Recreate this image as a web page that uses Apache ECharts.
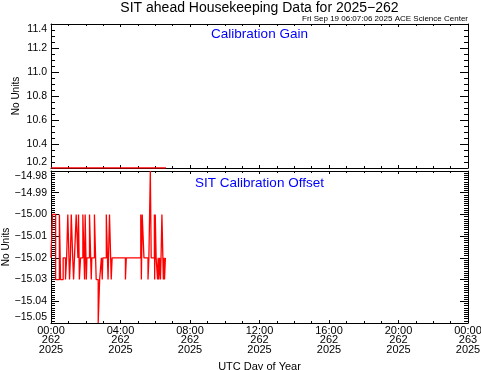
<!DOCTYPE html>
<html>
<head>
<meta charset="utf-8">
<script src="https://cdn.jsdelivr.net/npm/echarts@6/dist/echarts.min.js"></script>
<style>
html,body{margin:0;padding:0;background:#fff;}
#chart{width:481px;height:370px;}
</style>
</head>
<body>
<div id="chart"></div>
<script>
// ---- data (minutes since 00:00 of day 262) ----
var gainTimes = [0, 397];
var gainValues = [10.2, 10.2];

var offsetTimes = [0, 5, 16, 29, 33, 42, 50, 54, 58, 62, 64, 67, 70, 75, 78, 81, 87, 93, 95, 98,
  102, 110, 116, 118, 122, 124, 133, 139, 141, 150, 154, 156, 163, 168, 174, 177, 179, 191, 197, 202,
  206, 208, 211, 257, 260, 310, 312, 315, 321, 335, 338, 343, 346, 357, 358, 360, 363, 368, 370, 372,
  375, 378, 380, 383, 388, 390, 392, 395, 397];
var offsetValues = [-15.02, -15.00, -15.03, -15.00, -15.03, -15.02, -15.03, -15.02, -15.00, -15.02,
  -15.03, -15.02, -15.00, -15.02, -15.03, -15.02, -15.00, -15.02, -15.00, -15.03,
  -15.02, -15.00, -15.03, -15.00, -15.03, -15.02, -15.00, -15.03, -15.02, -15.00,
  -15.02, -15.03, -15.05, -15.03, -15.02, -15.03, -15.02, -15.00, -15.03, -15.00,
  -15.02, -15.03, -15.02, -15.03, -15.02, -15.00, -15.03, -15.00, -15.02, -15.03,
  -15.02, -14.98, -15.02, -15.00, -15.03, -15.00, -15.02, -15.03, -15.02, -15.03,
  -15.02, -15.03, -15.02, -15.00, -15.03, -15.02, -15.03, -15.02, -15.02];

var xTickMinutes = [0, 240, 480, 720, 960, 1200, 1440];
var xTickLabels = ['00:00\n262\n2025', '04:00\n262\n2025', '08:00\n262\n2025', '12:00\n262\n2025',
  '16:00\n262\n2025', '20:00\n262\n2025', '00:00\n263\n2025'];

var titleText = 'SIT ahead Housekeeping Data for 2025\u2212262';
var stampText = 'Fri Sep 19 06:07:06 2025 ACE Science Center';
var panelTitles = ['Calibration Gain', 'SIT Calibration Offset'];

// ---- build ----
var FONT = 'Liberation Sans';
function pairs(t, v) { return t.map(function (x, i) { return [x, v[i]]; }); }
function xLabel(val) {
  var i = xTickMinutes.indexOf(Math.round(val));
  return i >= 0 ? xTickLabels[i] : '';
}

var L = 51, R = 13, PL = L, PR = 481 - R;
var cx = (PL + PR) / 2;

function xAxisCfg(grid, pos, labels) {
  var a = {
    type: 'value', gridIndex: grid, position: pos, min: 0, max: 1440, interval: 240,
    axisLine: { show: true, onZero: false, lineStyle: { color: '#000', width: 1 } },
    axisTick: { show: true, inside: true, length: 3, lineStyle: { color: '#000' } },
    minorTick: { show: true, splitNumber: 4, length: 2, lineStyle: { color: '#000' } },
    splitLine: { show: false }, minorSplitLine: { show: false },
    axisLabel: { show: false }
  };
  if (labels) {
    a.axisLabel = {
      show: true, formatter: xLabel, color: '#000', fontFamily: FONT, fontSize: 11,
      lineHeight: 9.5, margin: 3, showMinLabel: true, showMaxLabel: true, hideOverlap: false
    };
    a.name = 'UTC Day of Year';
    a.nameLocation = 'middle';
    a.nameGap = 38;
    a.nameMoveOverlap = false;
    a.nameTextStyle = { color: '#000', fontFamily: FONT, fontSize: 11 };
  }
  return a;
}
function yAxisCfg(grid, pos, min, max, interval, minorN, digits, labels, nameGap) {
  var a = {
    type: 'value', gridIndex: grid, position: pos, min: min, max: max, interval: interval,
    axisLine: { show: true, onZero: false, lineStyle: { color: '#000', width: 1 } },
    axisTick: { show: true, inside: true, length: 8, lineStyle: { color: '#000' } },
    minorTick: { show: true, splitNumber: minorN, length: 4, lineStyle: { color: '#000' } },
    splitLine: { show: false }, minorSplitLine: { show: false },
    axisLabel: { show: false }
  };
  if (labels) {
    a.axisLabel = {
      show: true, color: '#000', fontFamily: FONT, fontSize: 10.5, margin: 4,
      formatter: function (v) { return v.toFixed(digits).replace('-', '\u2212'); },
      verticalAlignMinLabel: 'bottom', verticalAlignMaxLabel: 'top'
    };
    a.name = 'No Units';
    a.nameLocation = 'middle';
    a.nameGap = nameGap;
    a.nameMoveOverlap = false;
    a.nameTextStyle = { color: '#000', fontFamily: FONT, fontSize: 10 };
  }
  return a;
}

var option = {
  animation: false,
  backgroundColor: '#fff',
  grid: [
    { left: L, right: R, top: 24, height: 144, containLabel: false, outerBoundsMode: 'none' },
    { left: L, right: R, top: 171, height: 152, containLabel: false, outerBoundsMode: 'none' }
  ],
  xAxis: [
    xAxisCfg(0, 'bottom', false), xAxisCfg(0, 'top', false),
    xAxisCfg(1, 'bottom', true), xAxisCfg(1, 'top', false)
  ],
  yAxis: [
    yAxisCfg(0, 'left', 10.2, 11.4, 0.2, 4, 1, true, 30), yAxisCfg(0, 'right', 10.2, 11.4, 0.2, 4, 1, false),
    yAxisCfg(1, 'left', -15.05, -14.98, 0.01, 10, 2, true, 40), yAxisCfg(1, 'right', -15.05, -14.98, 0.01, 10, 2, false)
  ],
  series: [
    { type: 'line', xAxisIndex: 0, yAxisIndex: 0, data: pairs(gainTimes, gainValues), step: 'end',
      showSymbol: false, lineStyle: { color: '#ff0000', width: 1.5 }, z: 5 },
    { type: 'line', xAxisIndex: 2, yAxisIndex: 2, data: pairs(offsetTimes, offsetValues), step: 'end',
      showSymbol: false, lineStyle: { color: '#ff0000', width: 1.3 }, z: 5 }
  ],
  graphic: [
    { type: 'text', x: cx, y: 8, style: { text: titleText, font: '14px "' + FONT + '"', fill: '#000', textAlign: 'center', textVerticalAlign: 'middle' } },
    { type: 'text', x: PR, y: 19, style: { text: stampText, font: '8px "' + FONT + '"', fill: '#000', textAlign: 'right', textVerticalAlign: 'middle' } },
    { type: 'text', x: cx, y: 34, z: 10, style: { text: panelTitles[0], font: '13.5px "' + FONT + '"', fill: '#0000ff', textAlign: 'center', textVerticalAlign: 'middle' } },
    { type: 'text', x: cx, y: 183, z: 10, style: { text: panelTitles[1], font: '13.5px "' + FONT + '"', fill: '#0000ff', textAlign: 'center', textVerticalAlign: 'middle' } }
  ]
};

var chart = echarts.init(document.getElementById('chart'), null, { renderer: 'canvas' });
chart.setOption(option);
</script>
</body>
</html>
